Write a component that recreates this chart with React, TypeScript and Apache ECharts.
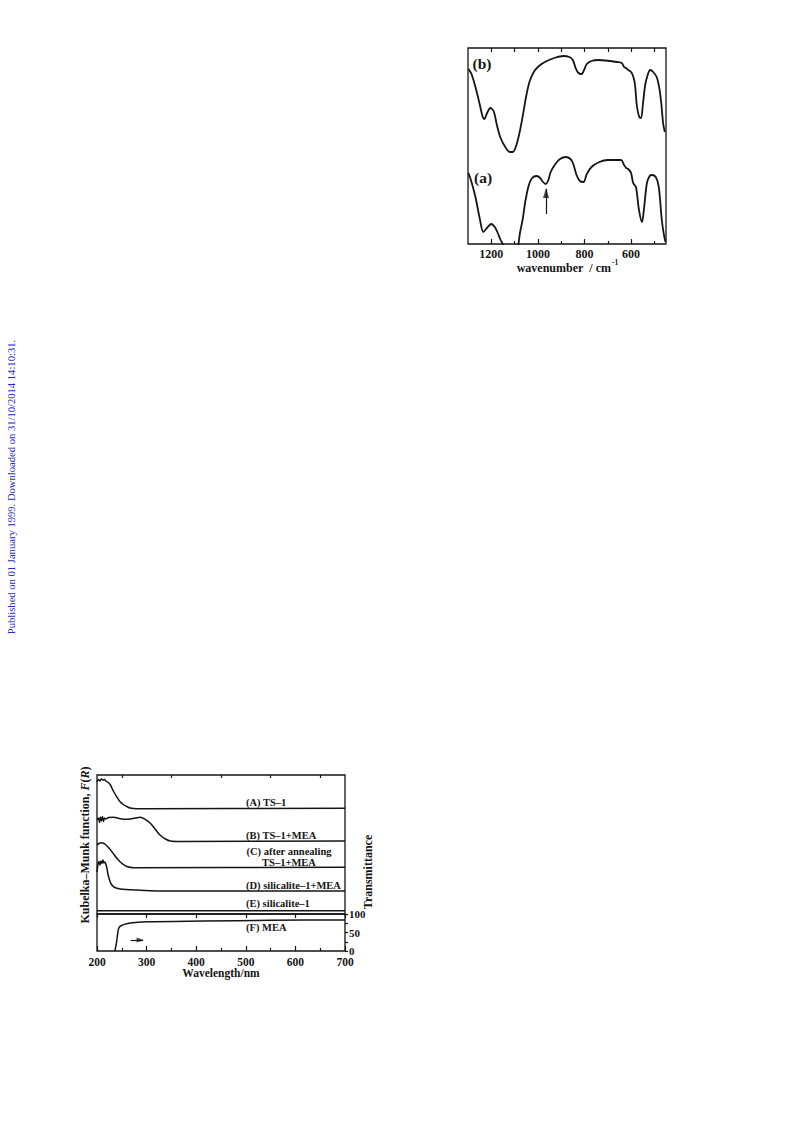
import React, { useEffect, useRef } from "react";
import * as echarts from "echarts";

const SERIF = '"Liberation Serif", "DejaVu Serif", serif';
const INK = "#151515";

// ---------- IR spectra (top right) ----------
const irB_wn = [1298, 1285, 1268, 1250, 1238, 1230, 1218, 1204, 1190, 1175, 1160, 1140, 1120, 1108, 1095, 1080, 1065, 1050, 1035, 1015, 995, 970, 930, 890, 865, 850, 838, 826, 812, 800, 790, 770, 740, 690, 660, 640, 630, 622, 612, 600, 590, 583, 575, 565, 557, 549, 540, 530, 518, 505, 490, 478, 470, 462, 455];
const irB_val = [175, 170, 157, 140, 128, 125, 131, 136, 133, 118, 106, 97, 92, 92, 97, 110, 128, 148, 163, 173, 178, 182, 186, 188, 187, 184, 176, 171, 170, 175, 180, 183, 184, 183, 182, 181, 177, 176, 174, 172, 167, 159, 138, 127, 126, 140, 158, 168, 174, 172, 167, 155, 140, 120, 112];
const irA_wn = [1298, 1285, 1268, 1250, 1234, 1215, 1200, 1185, 1174, 1160, 1153, 1130, 1110, 1090, 1077, 1065, 1055, 1040, 1025, 1005, 990, 978, 966, 955, 945, 925, 905, 880, 860, 848, 834, 820, 804, 790, 770, 736, 700, 643, 630, 621, 612, 600, 591, 579, 566, 553, 545, 532, 520, 511, 494, 481, 468, 458, 452];
const irA_val = [71, 62, 47, 26, 12, 17, 20, 17, 12, 4, 1, -15, -22, -10, 11, 25, 41, 58, 66, 68, 66, 62, 60, 64, 72, 80, 85, 87, 85, 80, 69, 63, 62, 70, 77, 82, 84, 84, 79, 76, 75, 71, 61, 57, 34, 22, 34, 61, 68, 69, 67, 57, 24, 8, 2];
const irArrowFrom = [965, 30];
const irArrowTo = [965, 55];
const irLabelTicks = [1200, 1000, 800, 600];
const irMinorTicks = [1100, 900, 700, 500];
const irTopTicks = [1200, 1100, 1000, 900, 800, 700, 600, 500];

// ---------- UV-vis spectra (bottom left) ----------
const uvA_wl = [200, 203, 206, 209, 212, 215, 218, 221, 224, 227, 231, 234, 240, 247, 253, 260, 267, 280, 300, 700];
const uvA_val = [132, 134.5, 133, 135, 134, 134.5, 133, 132, 131, 129, 125, 122, 117, 112, 109.5, 107.5, 106, 105.3, 105.3, 105.7];
const uvB_wl = [200, 203, 205, 207, 209, 211, 213, 215, 218, 223, 233, 247, 260, 274, 287, 297, 307, 317, 327, 338, 348, 368, 700];
const uvB_val = [94, 96, 91.5, 97, 93, 97.5, 92.5, 96, 95, 96.5, 96.7, 95.3, 94.7, 95.7, 96.7, 94.7, 91, 85, 79, 75, 73, 72.5, 73];
const uvC_wl = [200, 204, 208, 213, 217, 220, 225, 230, 235, 240, 245, 250, 260, 274, 700];
const uvC_val = [69, 70.5, 71.3, 70.7, 69.5, 68, 65.5, 62.3, 59, 55.7, 53, 50.7, 47.5, 46.3, 46.7];
const uvD_wl = [200, 202, 204, 206, 208, 210, 212, 214, 216, 218, 220, 222, 225, 228, 234, 247, 280, 348, 700];
const uvD_val = [42, 50, 52.5, 49, 53, 50.5, 54, 51, 52, 49.5, 46, 40, 34.5, 30.5, 27, 25, 24, 23, 23];
const uvE_wl = [200, 700];
const uvE_val = [3.3, 3.3];
const uvF_wl = [236, 239, 241, 243, 246, 250, 255, 267, 300, 415, 550, 700];
const uvF_val = [0, 20, 40, 58, 66, 69, 72, 76, 79, 81, 83, 84];
const uvArrowFrom = [268, 30];
const uvArrowTo = [293, 30];
const uvMajorTicks = [200, 300, 400, 500, 600, 700];
const uvMinorTicks = [250, 350, 450, 550, 650];
const transTicks = [0, 25, 50, 75, 100];
const transLabels = [0, 50, 100];

const uvLabels = [
  { text: "(A) TS–1", x: 246, y: 802 },
  { text: "(B) TS–1+MEA", x: 246, y: 835.5 },
  { text: "(D) silicalite–1+MEA", x: 246, y: 885.5 },
  { text: "(E) silicalite–1", x: 246, y: 903.5 },
  { text: "(F) MEA", x: 246, y: 927 },
];

const zip = (xs: number[], ys: number[]) => xs.map((x, i) => [x, ys[i]]);

const hiddenAxisBase = {
  type: "value" as const,
  axisLine: { show: false },
  splitLine: { show: false },
};

function tickAxis(gridIndex: number, min: number, max: number, position: string, ticks: number[], length: number, inverse: boolean, labels?: number[], labelStyle?: any) {
  return {
    ...hiddenAxisBase,
    gridIndex,
    min,
    max,
    inverse,
    position,
    axisTick: { show: true, inside: true, length, customValues: ticks, lineStyle: { color: INK, width: 1.2 } },
    axisLabel: labels
      ? { show: true, customValues: labels, formatter: (v: number) => String(v), ...labelStyle }
      : { show: false },
  };
}

function lineSeries(name: string, xi: number, yi: number, data: number[][], width: number, extra: any = {}) {
  return {
    name,
    type: "line",
    xAxisIndex: xi,
    yAxisIndex: yi,
    data,
    showSymbol: false,
    symbol: "none",
    smooth: 0.3,
    clip: true,
    lineStyle: { color: INK, width },
    ...extra,
  };
}

function shaftMark(from: number[], to: number[]) {
  return {
    silent: true,
    symbol: ["none", "none"],
    label: { show: false },
    lineStyle: { type: "solid", color: INK, width: 1.2 },
    data: [[{ coord: from }, { coord: to }]],
  };
}

function arrowHead(name: string, xi: number, yi: number, tip: number[], rotate: number, size: number[], offset: number[]) {
  return {
    name,
    type: "scatter",
    xAxisIndex: xi,
    yAxisIndex: yi,
    data: [tip],
    symbol: "triangle",
    symbolSize: size,
    symbolRotate: rotate,
    symbolOffset: offset,
    silent: true,
    clip: false,
    itemStyle: { color: INK },
  };
}

export default function App() {
  const ref = useRef<HTMLDivElement>(null);

  useEffect(() => {
    if (!ref.current) return;
    const chart = echarts.init(ref.current, undefined, { renderer: "svg" });

    const irLabelStyle = { fontFamily: SERIF, fontSize: 12, fontWeight: "bold", color: INK, margin: 4 };
    const uvLabelStyle = { fontFamily: SERIF, fontSize: 11.5, fontWeight: "bold", color: INK, margin: 5 };

    const textBase = { fontFamily: SERIF, fill: INK };

    const option: any = {
      animation: false,
      backgroundColor: "#ffffff",
      grid: [
        { left: 468, top: 48, width: 198, height: 196, show: true, borderColor: INK, borderWidth: 1.3, backgroundColor: "transparent", containLabel: false },
        { left: 97, top: 775, width: 248, height: 139, show: true, borderColor: INK, borderWidth: 1.3, backgroundColor: "transparent", containLabel: false },
        { left: 97, top: 914, width: 248, height: 37, show: true, borderColor: INK, borderWidth: 1.3, backgroundColor: "transparent", containLabel: false },
      ],
      xAxis: [
        tickAxis(0, 450, 1300, "bottom", irLabelTicks, 5, true, irLabelTicks, irLabelStyle),
        tickAxis(0, 450, 1300, "bottom", irMinorTicks, 3, true),
        tickAxis(0, 450, 1300, "top", irTopTicks, 4, true),
        tickAxis(1, 200, 700, "top", uvMajorTicks, 4, false),
        tickAxis(1, 200, 700, "top", uvMinorTicks, 3, false),
        tickAxis(2, 200, 700, "bottom", uvMajorTicks, 5, false, uvMajorTicks, uvLabelStyle),
        tickAxis(2, 200, 700, "bottom", uvMinorTicks, 3, false),
      ],
      yAxis: [
        { ...hiddenAxisBase, gridIndex: 0, min: 0, max: 196, show: false },
        { ...hiddenAxisBase, gridIndex: 1, min: 0, max: 139, show: false },
        {
          ...hiddenAxisBase,
          gridIndex: 2,
          min: 0,
          max: 100,
          position: "right",
          axisTick: { show: true, inside: false, length: 3, customValues: transTicks, lineStyle: { color: INK, width: 1.2 } },
          axisLabel: { show: true, customValues: transLabels, formatter: (v: number) => String(v), fontFamily: SERIF, fontSize: 11, fontWeight: "bold", color: INK, margin: 4 },
        },
      ],
      series: [
        lineSeries("IR b", 0, 0, zip(irB_wn, irB_val), 1.8),
        lineSeries("IR a", 0, 0, zip(irA_wn, irA_val), 1.8, { markLine: shaftMark(irArrowFrom, irArrowTo) }),
        arrowHead("IR arrow", 0, 0, irArrowTo, 0, [6, 10], [0, 4]),
        lineSeries("A", 3, 1, zip(uvA_wl, uvA_val), 1.5),
        lineSeries("B", 3, 1, zip(uvB_wl, uvB_val), 1.5),
        lineSeries("C", 3, 1, zip(uvC_wl, uvC_val), 1.5),
        lineSeries("D", 3, 1, zip(uvD_wl, uvD_val), 1.5),
        lineSeries("E", 3, 1, zip(uvE_wl, uvE_val), 1.5, { smooth: false }),
        lineSeries("F", 5, 2, zip(uvF_wl, uvF_val), 1.5, { markLine: shaftMark(uvArrowFrom, uvArrowTo) }),
        arrowHead("UV arrow", 5, 2, uvArrowTo, -90, [5, 7], [-3, 0]),
      ],
      graphic: [
        // side banner
        {
          type: "text",
          x: 11,
          y: 487,
          rotation: Math.PI / 2,
          style: {
            text: "Published on 01 January 1999. Downloaded on 31/10/2014 14:10:31.",
            fontFamily: SERIF,
            fontSize: 10.6,
            fill: "#2b2bbd",
            align: "center",
            verticalAlign: "middle",
          },
        },
        // IR annotations
        { type: "text", x: 482, y: 63, style: { ...textBase, text: "(b)", fontSize: 15.5, fontWeight: "bold", align: "center", verticalAlign: "middle" } },
        { type: "text", x: 483, y: 177, style: { ...textBase, text: "(a)", fontSize: 15.5, fontWeight: "bold", align: "center", verticalAlign: "middle" } },
        { type: "text", x: 611, y: 268, style: { ...textBase, text: "wavenumber\u00a0\u00a0/ cm", fontSize: 12, fontWeight: "bold", align: "right", verticalAlign: "middle" } },
        { type: "text", x: 612, y: 262, style: { ...textBase, text: "-1", fontSize: 7.5, fontWeight: "bold", align: "left", verticalAlign: "middle" } },
        // UV annotations
        ...uvLabels.map((l) => ({
          type: "text",
          x: l.x,
          y: l.y,
          style: { ...textBase, text: l.text, fontSize: 10.5, fontWeight: "bold", align: "left", verticalAlign: "middle" },
        })),
        { type: "text", x: 289, y: 851.5, style: { ...textBase, text: "(C) after annealing", fontSize: 10.5, fontWeight: "bold", align: "center", verticalAlign: "middle" } },
        { type: "text", x: 289, y: 862, style: { ...textBase, text: "TS–1+MEA", fontSize: 10.5, fontWeight: "bold", align: "center", verticalAlign: "middle" } },
        { type: "text", x: 221, y: 973, style: { ...textBase, text: "Wavelength/nm", fontSize: 11.5, fontWeight: "bold", align: "center", verticalAlign: "middle" } },
        {
          type: "text",
          x: 85,
          y: 845,
          rotation: Math.PI / 2,
          style: {
            text: "{a|Kubelka–Munk function, }{i|F}{a|(}{i|R}{a|)}",
            align: "center",
            verticalAlign: "middle",
            rich: {
              a: { fontFamily: SERIF, fontSize: 12, fontWeight: "bold", fill: INK, color: INK },
              i: { fontFamily: SERIF, fontSize: 12, fontWeight: "bold", fontStyle: "italic", fill: INK, color: INK },
            },
          },
        },
        {
          type: "text",
          x: 368,
          y: 872,
          rotation: Math.PI / 2,
          style: { ...textBase, text: "Transmittance", fontSize: 12, fontWeight: "bold", align: "center", verticalAlign: "middle" },
        },
      ],
    };

    chart.setOption(option);
    return () => chart.dispose();
  }, []);

  return (
    <div
      ref={ref}
      style={{ position: "absolute", left: 0, top: 0, width: 793, height: 1121, background: "#fff" }}
    />
  );
}
